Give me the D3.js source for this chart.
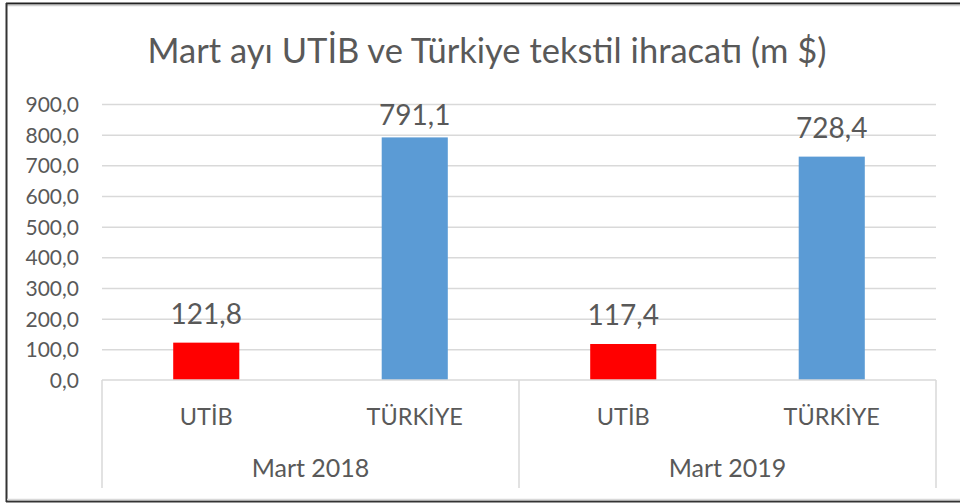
<!DOCTYPE html>
<html>
<head>
<meta charset="utf-8">
<script src="https://cdn.jsdelivr.net/npm/d3@7"></script>
<style>
  html, body { margin: 0; padding: 0; background: #fff; }
  svg { display: block; }
  text { font-family: Lato, "Open Sans", sans-serif; fill: #595959; }
</style>
</head>
<body>
<svg id="chart" width="960" height="503"></svg>
<script>
// ---- data ----
const title = "Mart ayı UTİB ve Türkiye tekstil ihracatı (m $)";
const groups = ["Mart 2018", "Mart 2019"];
const categories = ["UTİB", "TÜRKİYE"];
const values2018 = [121.8, 791.1];
const values2019 = [117.4, 728.4];
const seriesValues = [values2018, values2019];
const yTicks = [0, 100, 200, 300, 400, 500, 600, 700, 800, 900];
const barColors = ["#FF0000", "#5B9BD5"];

// ---- layout ----
const W = 960, H = 503;
const plot = { left: 102, right: 936, top: 104, bottom: 380, axisBottom: 488 };
const svg = d3.select("#chart");

const locale = d3.formatLocale({ decimal: ",", thousands: ".", grouping: [3], currency: ["", ""] });
const fmt = locale.format(".1f");

const y = d3.scaleLinear().domain([0, 900]).range([plot.bottom, plot.top]);
const xGroup = d3.scaleBand().domain(groups).range([plot.left, plot.right]).padding(0);
const xCat = d3.scaleBand().domain(categories).range([0, xGroup.bandwidth()])
  .paddingInner(0.683).paddingOuter(0.683 / 2);

// frame
svg.append("rect").attr("x", 0).attr("y", 0).attr("width", W).attr("height", H).attr("fill", "#fff");
svg.append("line").attr("x1", 6).attr("x2", W).attr("y1", 3.5).attr("y2", 3.5).attr("stroke", "#222").attr("stroke-width", 2);
svg.append("line").attr("x1", 7).attr("x2", W).attr("y1", 5.5).attr("y2", 5.5).attr("stroke", "#d0d0d0").attr("stroke-width", 1.5);
svg.append("line").attr("x1", 6.5).attr("x2", 6.5).attr("y1", 3).attr("y2", 502).attr("stroke", "#333").attr("stroke-width", 2);
svg.append("line").attr("x1", 6).attr("x2", W).attr("y1", 501.5).attr("y2", 501.5).attr("stroke", "#333").attr("stroke-width", 2);
svg.append("line").attr("x1", 7).attr("x2", W).attr("y1", 499.5).attr("y2", 499.5).attr("stroke", "#d9d9d9").attr("stroke-width", 1.5);

// title
svg.append("text").attr("x", 487).attr("y", 63).attr("text-anchor", "middle")
  .style("font-size", "34.5px").text(title);

// gridlines
const yAxis = d3.axisLeft(y).tickValues(yTicks).tickFormat(fmt)
  .tickSize(-(plot.right - plot.left)).tickPadding(23);
const gy = svg.append("g").attr("transform", `translate(${plot.left},0)`).call(yAxis);
gy.select(".domain").remove();
gy.selectAll(".tick line").attr("stroke", "#d9d9d9").attr("stroke-width", 1.5);
gy.selectAll(".tick text").style("font-size", "21px").attr("fill", "#595959").attr("dy", "0.36em");
gy.selectAll(".tick").filter(d => d === 0).select("line").remove();

// bars
const gBars = svg.append("g");
groups.forEach((g, gi) => {
  categories.forEach((c, ci) => {
    const v = seriesValues[gi][ci];
    const x0 = xGroup(g) + xCat(c);
    gBars.append("rect")
      .attr("x", x0).attr("width", xCat.bandwidth())
      .attr("y", y(v)).attr("height", y(0) - y(v))
      .attr("fill", barColors[ci]);
    const ly = Math.max(y(v) - 19, y(900) + 21);
    gBars.append("text").attr("x", x0 + xCat.bandwidth() / 2).attr("y", ly)
      .attr("text-anchor", "middle").style("font-size", "28px").attr("fill", "#404040")
      .text(fmt(v));
  });
});

// category axis
const axisColor = "#d9d9d9";
svg.append("line").attr("x1", plot.left).attr("x2", plot.right).attr("y1", plot.bottom).attr("y2", plot.bottom)
  .attr("stroke", axisColor).attr("stroke-width", 1.5);
const sepX = groups.map(g => xGroup(g)).concat([xGroup(groups[groups.length - 1]) + xGroup.bandwidth()]);
sepX.forEach(sx => {
  svg.append("line").attr("x1", sx).attr("x2", sx).attr("y1", plot.bottom).attr("y2", plot.axisBottom)
    .attr("stroke", axisColor).attr("stroke-width", 1.5);
});
groups.forEach(g => {
  categories.forEach(c => {
    svg.append("text").attr("x", xGroup(g) + xCat(c) + xCat.bandwidth() / 2).attr("y", 425)
      .attr("text-anchor", "middle").style("font-size", "23.5px").text(c);
  });
  svg.append("text").attr("x", xGroup(g) + xGroup.bandwidth() / 2).attr("y", 477)
    .attr("text-anchor", "middle").style("font-size", "25px").text(g);
});
</script>
</body>
</html>
